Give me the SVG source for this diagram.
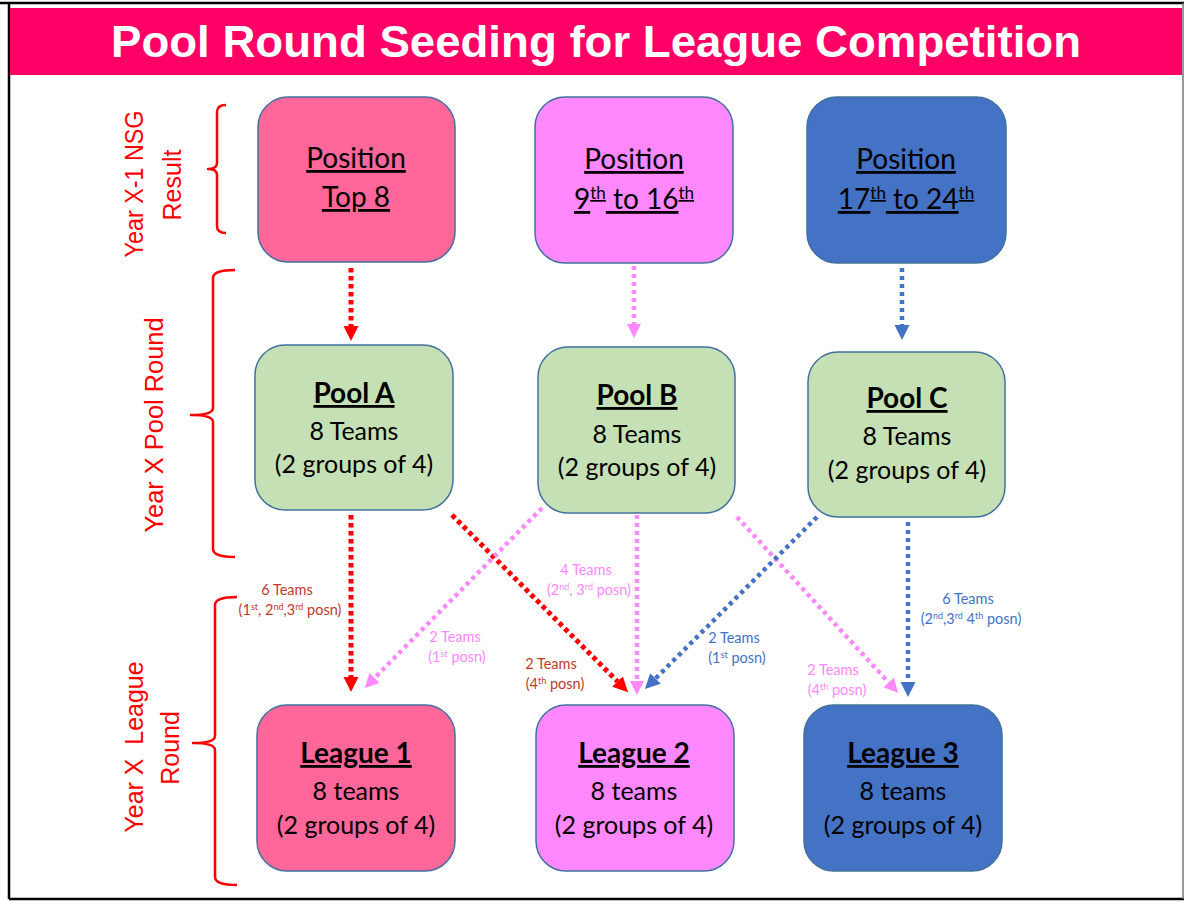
<svg xmlns="http://www.w3.org/2000/svg" width="1184" height="902" viewBox="0 0 1184 902">
<style>
.box{stroke:#41719C;stroke-width:1.5}
.red{fill:#FF6699}.pink{fill:#FF88FF}.blue{fill:#4472C4}.green{fill:#C5E0B4}
.hd{font-family:Lato,"Open Sans",sans-serif;font-size:28px;fill:#000;text-anchor:middle;text-decoration:underline}
.bt{font-family:Lato,"Open Sans",sans-serif;font-size:28px;font-weight:bold;fill:#000;text-anchor:middle;text-decoration:underline}
.tx{font-family:Lato,"Open Sans",sans-serif;font-size:25px;fill:#000;text-anchor:middle}
.sup{font-size:17px}
.side{font-family:"Liberation Sans",Arial,sans-serif;font-size:25px;fill:#FF0000;text-anchor:middle}
.brace{fill:none;stroke:#FF0000;stroke-width:2.5;stroke-linejoin:round}
.sm{font-family:Lato,"Open Sans",sans-serif;font-size:14.5px;text-anchor:middle}
.ss{font-size:9px}
.cr{fill:none;stroke:#FF0000;stroke-width:5;stroke-dasharray:4.5 3.5}
.cp{fill:none;stroke:#FF88FF;stroke-width:4.5;stroke-dasharray:4 4}
.cb{fill:none;stroke:#4472C4;stroke-width:4.5;stroke-dasharray:4 4}
</style>
<defs>
<marker id="ar" viewBox="0 -8 15 16" markerWidth="15" markerHeight="16" refX="0" refY="0" orient="auto" markerUnits="userSpaceOnUse"><path d="M0,-7.5 L15,0 L0,7.5 z" fill="#FF0000"/></marker>
<marker id="ap" viewBox="0 -8 15 16" markerWidth="15" markerHeight="16" refX="0" refY="0" orient="auto" markerUnits="userSpaceOnUse"><path d="M0,-7 L14,0 L0,7 z" fill="#FF88FF"/></marker>
<marker id="ab" viewBox="0 -8 15 16" markerWidth="15" markerHeight="16" refX="0" refY="0" orient="auto" markerUnits="userSpaceOnUse"><path d="M0,-7.5 L15,0 L0,7.5 z" fill="#4472C4"/></marker>
</defs>
<rect x="0" y="0" width="1184" height="902" fill="#FFFFFF"/>
<!-- frame -->
<line x1="0" y1="3" x2="1184" y2="3" stroke="#000" stroke-width="2.5"/>
<line x1="9" y1="3" x2="9" y2="899" stroke="#000" stroke-width="2.5"/>
<line x1="9" y1="899" x2="1184" y2="899" stroke="#000" stroke-width="2.5"/>
<line x1="1183" y1="3" x2="1183" y2="899" stroke="#777" stroke-width="1.5"/>
<!-- title -->
<g id="title">
<rect x="10" y="8" width="1172" height="67" fill="#FF0066"/>
<text x="596" y="57" font-family="Liberation Sans,Arial,sans-serif" font-size="44" font-weight="bold" fill="#FFFFFF" text-anchor="middle" textLength="970" lengthAdjust="spacingAndGlyphs">Pool Round Seeding for League Competition</text>
</g>
<!-- side labels and braces -->
<g id="side-labels">
<path class="brace" d="M226,105 Q217,105 217,112 L217,163 Q217,169 208,169 Q217,169 217,175 L217,226 Q217,233 226,233"/>
<path class="brace" d="M235,270 Q213,270 213,278 L213,408 Q213,415 191,415 Q213,415 213,422 L213,549 Q213,557 235,557"/>
<path class="brace" d="M237,597 Q215,597 215,605 L215,736 Q215,743 193,743 Q215,743 215,750 L215,877 Q215,885 237,885"/>
<text class="side" transform="translate(143,184) rotate(-90)" textLength="147" lengthAdjust="spacingAndGlyphs">Year X-1 NSG</text>
<text class="side" transform="translate(181,185) rotate(-90)">Result</text>
<text class="side" transform="translate(163,425) rotate(-90)" textLength="215" lengthAdjust="spacingAndGlyphs">Year X Pool Round</text>
<text class="side" xml:space="preserve" transform="translate(143,747) rotate(-90)" textLength="171" lengthAdjust="spacingAndGlyphs">Year X  League</text>
<text class="side" transform="translate(179,748) rotate(-90)">Round</text>
</g>
<!-- connectors -->
<g id="connectors">
<line class="cr" x1="351" y1="268" x2="351" y2="326" marker-end="url(#ar)"/>
<line class="cp" x1="634" y1="266" x2="634" y2="324" marker-end="url(#ap)"/>
<line class="cb" x1="902" y1="268" x2="902" y2="325" marker-end="url(#ab)"/>
<line class="cr" x1="351" y1="515" x2="351" y2="677" marker-end="url(#ar)"/>
<line class="cr" x1="452" y1="515" x2="617.5" y2="681.5" marker-end="url(#ar)"/>
<line class="cp" x1="542" y1="508" x2="374.5" y2="678" marker-end="url(#ap)"/>
<line class="cp" x1="637" y1="515" x2="637" y2="681" marker-end="url(#ap)"/>
<line class="cp" x1="737" y1="517" x2="888.7" y2="682.5" marker-end="url(#ap)"/>
<line class="cb" x1="817" y1="517" x2="655.5" y2="678.5" marker-end="url(#ab)"/>
<line class="cb" x1="908" y1="522" x2="908" y2="682" marker-end="url(#ab)"/>
<text class="sm" fill="#C0392B" x="287" y="595">6 Teams</text>
<text class="sm" fill="#C0392B" x="290" y="615">(1<tspan class="ss" dy="-5">st</tspan><tspan dy="5">, 2</tspan><tspan class="ss" dy="-5">nd</tspan><tspan dy="5">,3</tspan><tspan class="ss" dy="-5">rd</tspan><tspan dy="5"> posn)</tspan></text>
<text class="sm" fill="#FF88FF" x="586" y="575">4 Teams</text>
<text class="sm" fill="#FF88FF" x="589" y="595">(2<tspan class="ss" dy="-5">nd</tspan><tspan dy="5">, 3</tspan><tspan class="ss" dy="-5">rd</tspan><tspan dy="5"> posn)</tspan></text>
<text class="sm" fill="#FF88FF" x="455" y="642">2 Teams</text>
<text class="sm" fill="#FF88FF" x="457" y="662">(1<tspan class="ss" dy="-5">st</tspan><tspan dy="5"> posn)</tspan></text>
<text class="sm" fill="#C0392B" x="551" y="669">2 Teams</text>
<text class="sm" fill="#C0392B" x="555" y="689">(4<tspan class="ss" dy="-5">th</tspan><tspan dy="5"> posn)</tspan></text>
<text class="sm" fill="#4472C4" x="734" y="643">2 Teams</text>
<text class="sm" fill="#4472C4" x="737" y="663">(1<tspan class="ss" dy="-5">st</tspan><tspan dy="5"> posn)</tspan></text>
<text class="sm" fill="#FF88FF" x="833" y="675">2 Teams</text>
<text class="sm" fill="#FF88FF" x="837" y="695">(4<tspan class="ss" dy="-5">th</tspan><tspan dy="5"> posn)</tspan></text>
<text class="sm" fill="#4472C4" x="968" y="604">6 Teams</text>
<text class="sm" fill="#4472C4" x="971" y="624">(2<tspan class="ss" dy="-5">nd</tspan><tspan dy="5">,3</tspan><tspan class="ss" dy="-5">rd</tspan><tspan dy="5"> 4</tspan><tspan class="ss" dy="-5">th</tspan><tspan dy="5"> posn)</tspan></text>
</g>
<!-- row 1 -->
<g id="pos-top8">
<rect class="box red" x="258" y="97" width="197" height="165" rx="30"/>
<text class="hd" x="356" y="168">Position</text>
<text class="hd" x="356" y="207">Top 8</text>
</g>
<g id="pos-9-16">
<rect class="box pink" x="535" y="97" width="198" height="166" rx="30"/>
<text class="hd" x="634" y="169">Position</text>
<text class="hd" x="634" y="209">9<tspan class="sup" dy="-10">th</tspan><tspan dy="10"> to 16</tspan><tspan class="sup" dy="-10">th</tspan></text>
</g>
<g id="pos-17-24">
<rect class="box blue" x="807" y="97" width="199" height="166" rx="30"/>
<text class="hd" x="906" y="169">Position</text>
<text class="hd" x="906" y="209">17<tspan class="sup" dy="-10">th</tspan><tspan dy="10"> to 24</tspan><tspan class="sup" dy="-10">th</tspan></text>
</g>
<!-- row 2 -->
<g id="pool-a">
<rect class="box green" x="255" y="345" width="198" height="165" rx="30"/>
<text class="bt" x="354" y="403">Pool A</text>
<text class="tx" x="354" y="440">8 Teams</text>
<text class="tx" x="354" y="473">(2 groups of 4)</text>
</g>
<g id="pool-b">
<rect class="box green" x="538" y="347" width="197" height="166" rx="30"/>
<text class="bt" x="637" y="405">Pool B</text>
<text class="tx" x="637" y="443">8 Teams</text>
<text class="tx" x="637" y="476">(2 groups of 4)</text>
</g>
<g id="pool-c">
<rect class="box green" x="808" y="352" width="197" height="165" rx="30"/>
<text class="bt" x="907" y="408">Pool C</text>
<text class="tx" x="907" y="445">8 Teams</text>
<text class="tx" x="907" y="479">(2 groups of 4)</text>
</g>
<!-- row 3 -->
<g id="league-1">
<rect class="box red" x="257" y="705" width="198" height="166" rx="30"/>
<text class="bt" x="356" y="763">League 1</text>
<text class="tx" x="356" y="800">8 teams</text>
<text class="tx" x="356" y="834">(2 groups of 4)</text>
</g>
<g id="league-2">
<rect class="box pink" x="536" y="705" width="198" height="166" rx="30"/>
<text class="bt" x="634" y="763">League 2</text>
<text class="tx" x="634" y="800">8 teams</text>
<text class="tx" x="634" y="834">(2 groups of 4)</text>
</g>
<g id="league-3">
<rect class="box blue" x="804" y="705" width="198" height="166" rx="30"/>
<text class="bt" x="903" y="763">League 3</text>
<text class="tx" x="903" y="800">8 teams</text>
<text class="tx" x="903" y="834">(2 groups of 4)</text>
</g>
</svg>
